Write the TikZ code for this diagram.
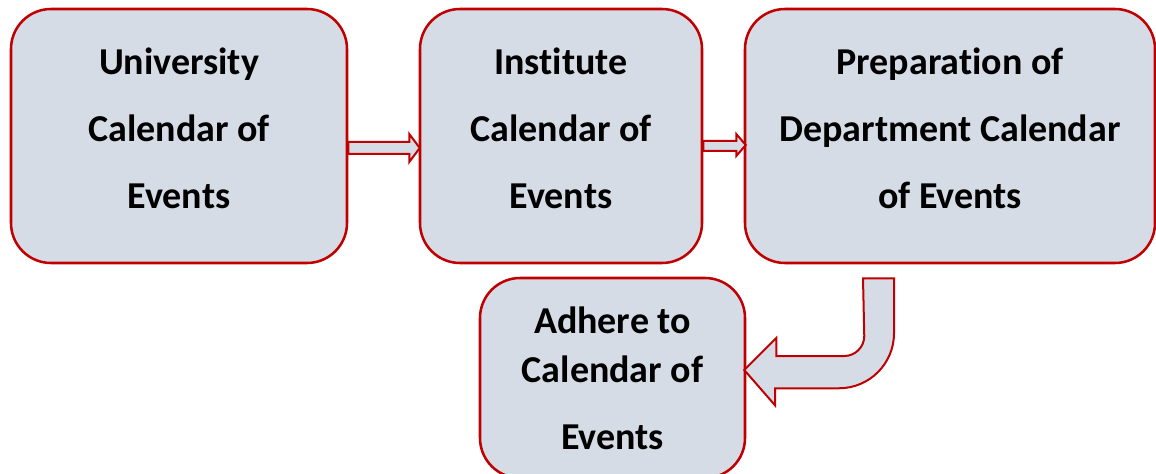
\documentclass[tikz,border=0pt]{standalone}
\usepackage{fontspec}
\setmainfont[Ligatures=NoCommon]{Carlito}
\usetikzlibrary{calc}
\definecolor{boxfill}{HTML}{D6DCE5}
\definecolor{boxline}{HTML}{C00000}
\tikzset{
  stepbox/.style={draw=boxline, fill=boxfill, line width=1.9pt, rounded corners=30pt,
    align=center, font=\bfseries\fontsize{28.5}{50.25}\selectfont, inner sep=0pt},
  blockarrow/.style={draw=boxline, fill=boxfill, line width=1.5pt, line join=miter}
}
\begin{document}
\begin{tikzpicture}[x=0.75pt,y=-0.75pt]
\useasboundingbox (0,0) rectangle (1156,474);
\node[stepbox, minimum width=252pt, minimum height=190.5pt, text depth=12pt] (b1) at (179,136)
  {University\\Calendar of\\Events};
\node[stepbox, minimum width=211.5pt, minimum height=190.5pt, text depth=12pt] (b2) at (561,136)
  {Institute\\Calendar of\\Events};
\node[stepbox, minimum width=307.5pt, minimum height=190.5pt, text depth=12pt] (b3) at (950,136)
  {Preparation of\\Department Calendar\\of Events};
\node[stepbox, minimum width=198.75pt, minimum height=150pt] (b4) at (612.5,378)
  {Adhere to\\[-13.5pt]Calendar of\\Events};
% arrow 1
\draw[blockarrow] ($(b1.east)+(0,6)$) -- ($(b1.east)+(61,6)$) -- ($(b1.east)+(61,-2)$)
  -- ($(b2.west)+(1,12)$) -- ($(b1.east)+(61,26)$) -- ($(b1.east)+(61,18)$)
  -- ($(b1.east)+(0,18)$) -- cycle;
% arrow 2
\draw[blockarrow] ($(b2.east)+(0,5)$) -- ($(b2.east)+(33,5)$) -- ($(b2.east)+(33,-2)$)
  -- ($(b3.west)+(2,9)$) -- ($(b2.east)+(33,20)$) -- ($(b2.east)+(33,15)$)
  -- ($(b2.east)+(0,15)$) -- cycle;
% bent arrow
\coordinate (s) at ($(b3.south)+(-87,14)$);
\draw[blockarrow] (s) -- ++(31,0) -- ++(0,55) arc[start angle=0, end angle=90, radius=55]
  -- ++(-64,0) -- ++(0,17) -- ($(b4.east)+(-2,-8)$) -- ++(32,-32) -- ++(0,18)
  -- ++(68,0) arc[start angle=90, end angle=0, radius=20] -- cycle;
\end{tikzpicture}
\end{document}
